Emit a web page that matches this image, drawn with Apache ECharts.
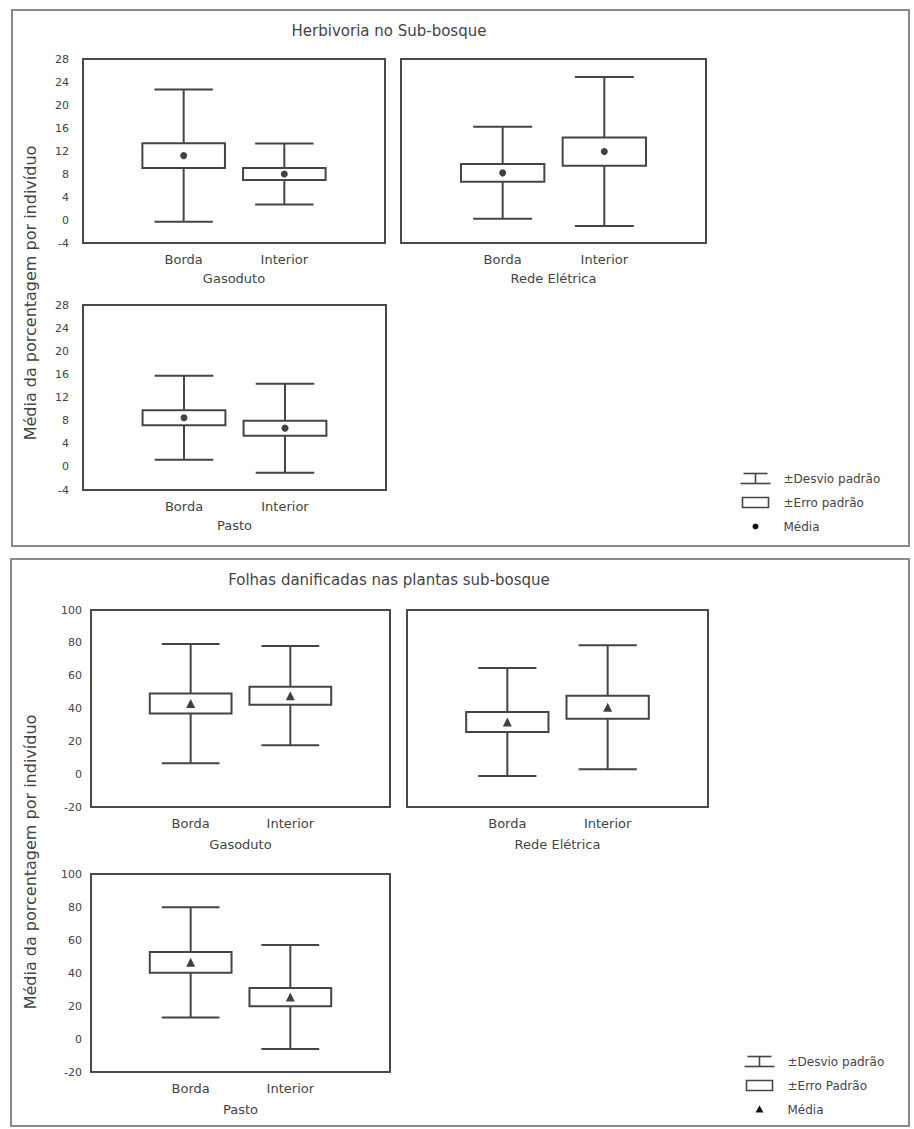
<!DOCTYPE html>
<html>
<head>
<meta charset="utf-8">
<title>Herbivoria no Sub-bosque</title>
<script src="https://cdn.jsdelivr.net/npm/echarts/dist/echarts.min.js"></script>
<style>
  html, body { margin: 0; padding: 0; background: #fff; }
  #chart { width: 914px; height: 1129px; }
</style>
</head>
<body>
<div id="chart"></div>
<script>
// Categories and site names
const categories = ['Borda', 'Interior'];
const sites = ['Gasoduto', 'Rede Elétrica', 'Pasto'];

// Herbivory (% per individual): mean, standard error, standard deviation per site [Borda, Interior]
const herbMean = [[11.2, 8.0], [8.2, 11.9], [8.5, 6.7]];
const herbSE   = [[2.15, 1.05], [1.55, 2.45], [1.3, 1.3]];
const herbSD   = [[11.5, 5.3], [8.0, 12.95], [7.25, 7.7]];

// Damaged leaves (% per individual)
const leafMean = [[43.0, 47.8], [31.8, 40.8], [46.5, 25.4]];
const leafSE   = [[6.1, 5.5], [6.1, 7.0], [6.3, 5.5]];
const leafSD   = [[36.3, 30.2], [32.9, 37.8], [33.4, 31.5]];

// Axis ranges / ticks
const herbAxis = { min: -4, max: 28, interval: 4 };
const leafAxis = { min: -20, max: 100, interval: 20 };

// Text
const titleHerb = 'Herbivoria no Sub-bosque';
const titleLeaf = 'Folhas danificadas nas plantas sub-bosque';
const yTitle = 'Média da porcentagem por indivíduo';
const legendHerb = ['±Desvio padrão', '±Erro padrão', 'Média'];
const legendLeaf = ['±Desvio padrão', '±Erro Padrão', 'Média'];

const FONT = '"DejaVu Sans", Verdana, sans-serif';
const TXT = '#444';
const LINE = '#454545';

// plot rectangles: [left, top, width, height]
const gridBoxes = [
  [83, 59, 302, 184], [401, 59, 305, 184], [83, 305, 303, 185],
  [91, 610, 299, 197], [407, 610, 301, 197], [91, 874, 299, 198]
];
// panels on the right share the y scale of their row and carry no tick labels
const showYLabels = [true, false, true, true, false, true];

const grids = [], xAxes = [], yAxes = [], series = [];

function boxRender(params, api) {
  const x = api.value(0), m = api.value(1), se = api.value(2), sd = api.value(3);
  const hb = 0.41, hc = 0.29;
  const c = (xx, yy) => api.coord([xx, yy]);
  const st = { stroke: LINE, lineWidth: 2, fill: null };
  const top = c(x, m + sd), bot = c(x, m - sd);
  const capTL = c(x - hc, m + sd), capTR = c(x + hc, m + sd);
  const capBL = c(x - hc, m - sd), capBR = c(x + hc, m - sd);
  const b1 = c(x - hb, m + se), b2 = c(x + hb, m - se);
  return {
    type: 'group',
    children: [
      { type: 'line', shape: { x1: top[0], y1: top[1], x2: bot[0], y2: bot[1] }, style: st },
      { type: 'line', shape: { x1: capTL[0], y1: capTL[1], x2: capTR[0], y2: capTR[1] }, style: st },
      { type: 'line', shape: { x1: capBL[0], y1: capBL[1], x2: capBR[0], y2: capBR[1] }, style: st },
      { type: 'rect', shape: { x: b1[0], y: b1[1], width: b2[0] - b1[0], height: b2[1] - b1[1] },
        style: { stroke: LINE, lineWidth: 2, fill: '#fff' } }
    ]
  };
}

function addPanel(idx, siteIdx, axis, means, ses, sds, symbol, symSize) {
  const [l, t, w, h] = gridBoxes[idx];
  grids.push({ left: l, top: t, width: w, height: h, show: true, borderColor: '#4a4a4a', borderWidth: 2, backgroundColor: '#fff' });
  xAxes.push({
    gridIndex: idx, type: 'value', min: 0, max: 3, interval: 1,
    axisLine: { show: false }, axisTick: { show: false }, splitLine: { show: false },
    axisLabel: { formatter: v => categories[v - 1] || '', color: TXT, fontSize: 13, fontFamily: FONT, margin: 10 },
    name: sites[siteIdx], nameLocation: 'middle', nameGap: idx < 3 ? 29 : 31,
    nameTextStyle: { color: TXT, fontSize: 13, fontFamily: FONT }
  });
  yAxes.push({
    gridIndex: idx, type: 'value', min: axis.min, max: axis.max, interval: axis.interval,
    axisLine: { show: false }, axisTick: { show: false }, splitLine: { show: false },
    axisLabel: { show: showYLabels[idx], color: TXT, fontSize: 11, fontFamily: FONT, margin: idx < 3 ? 14 : 9 }
  });
  const data = categories.map((c, i) => [i + 1, means[siteIdx][i], ses[siteIdx][i], sds[siteIdx][i]]);
  series.push({
    type: 'custom', xAxisIndex: idx, yAxisIndex: idx, renderItem: boxRender,
    data: data, encode: { x: 0, y: [1] }, clip: false, silent: true
  });
  series.push({
    type: 'scatter', xAxisIndex: idx, yAxisIndex: idx, symbol: symbol, symbolSize: symSize,
    itemStyle: { color: '#111' }, data: data.map(d => [d[0], d[1]]), silent: true, z: 5
  });
}

for (let s = 0; s < 3; s++) addPanel(s, s, herbAxis, herbMean, herbSE, herbSD, 'circle', 7);
for (let s = 0; s < 3; s++) addPanel(s + 3, s, leafAxis, leafMean, leafSE, leafSD, 'triangle', 9);

function legendGroup(x, y, labels, markSymbol) {
  const ts = { fill: TXT, fontSize: 12, fontFamily: FONT, verticalAlign: 'middle' };
  const ls = { stroke: LINE, lineWidth: 1.6 };
  const mark = markSymbol === 'circle'
    ? { type: 'circle', shape: { cx: 15, cy: 48, r: 3 }, style: { fill: '#111' } }
    : { type: 'polygon', shape: { points: [[15, 44], [11, 51], [19, 51]] }, style: { fill: '#111' } };
  return {
    type: 'group', left: x, top: y,
    children: [
      { type: 'line', shape: { x1: 3, y1: -5, x2: 27, y2: -5 }, style: ls },
      { type: 'line', shape: { x1: 15, y1: -5, x2: 15, y2: 5 }, style: ls },
      { type: 'line', shape: { x1: 0, y1: 5, x2: 30, y2: 5 }, style: ls },
      { type: 'text', x: 43, y: 0, style: Object.assign({ text: labels[0] }, ts) },
      { type: 'rect', shape: { x: 2, y: 19, width: 26, height: 10 }, style: { stroke: LINE, lineWidth: 1.6, fill: '#fff' } },
      { type: 'text', x: 43, y: 24, style: Object.assign({ text: labels[1] }, ts) },
      mark,
      { type: 'text', x: 43, y: 48, style: Object.assign({ text: labels[2] }, ts) }
    ]
  };
}

const option = {
  backgroundColor: '#fff',
  animation: false,
  title: [
    { text: titleHerb, left: 384, top: 18, textAlign: 'center',
      textStyle: { color: TXT, fontSize: 15, fontWeight: 'normal', fontFamily: FONT } },
    { text: titleLeaf, left: 384, top: 567, textAlign: 'center',
      textStyle: { color: TXT, fontSize: 15, fontWeight: 'normal', fontFamily: FONT } }
  ],
  grid: grids,
  xAxis: xAxes,
  yAxis: yAxes,
  series: series,
  graphic: [
    { type: 'rect', shape: { x: 12, y: 10, width: 897, height: 536 }, style: { stroke: '#8a8a8a', lineWidth: 2, fill: null }, z: -10 },
    { type: 'rect', shape: { x: 11, y: 559, width: 898, height: 567 }, style: { stroke: '#8a8a8a', lineWidth: 2, fill: null }, z: -10 },
    { type: 'text', x: 30, y: 293, rotation: Math.PI / 2,
      style: { text: yTitle, fill: TXT, fontSize: 16, fontFamily: FONT, align: 'center', verticalAlign: 'middle' } },
    { type: 'text', x: 30, y: 862, rotation: Math.PI / 2,
      style: { text: yTitle, fill: TXT, fontSize: 16, fontFamily: FONT, align: 'center', verticalAlign: 'middle' } },
    legendGroup(738, 471, legendHerb, 'circle'),
    legendGroup(742, 1054, legendLeaf, 'triangle')
  ]
};

const chart = echarts.init(document.getElementById('chart'), null, { renderer: 'svg' });
chart.setOption(option);
</script>
</body>
</html>
